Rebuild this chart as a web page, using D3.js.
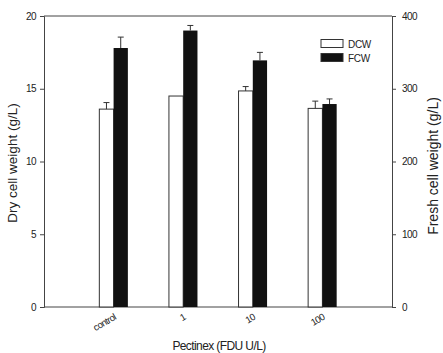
<!DOCTYPE html>
<html>
<head>
<meta charset="utf-8">
<script src="https://cdn.jsdelivr.net/npm/d3@7"></script>
<style>
  body { margin: 0; background: #fff; }
  svg text { font-family: "Liberation Sans", Arial, sans-serif; fill: #222; }
</style>
</head>
<body>
<div id="chart"></div>
<script>
// values
const categories = ["control", "1", "10", "100"];
const dcwValues = [13.6, 14.5, 14.85, 13.65];     // g/L, left axis
const dcwErrors = [0.45, 0, 0.3, 0.5];
const fcwValues = [356, 380, 339, 279];           // g/L, right axis
const fcwErrors = [15, 7, 11, 7];
const leftTicks = [0, 5, 10, 15, 20];
const rightTicks = [0, 100, 200, 300, 400];

const width = 443, height = 353;
const margin = {top: 16, right: 51, bottom: 46, left: 44};
const plotW = width - margin.left - margin.right;
const plotH = height - margin.top - margin.bottom;

const svg = d3.select("#chart").append("svg")
  .attr("width", width)
  .attr("height", height);

const g = svg.append("g")
  .attr("transform", "translate(" + margin.left + "," + margin.top + ")");

// groups sit at 1..4 on a 0..5 scale
const xScale = d3.scaleLinear().domain([0, 5]).range([0, plotW]);
const yLeft = d3.scaleLinear().domain([0, 20]).range([plotH, 0]);
const yRight = d3.scaleLinear().domain([0, 400]).range([plotH, 0]);
const barW = xScale(0.205) - xScale(0);

// frame
g.append("line").attr("x1", 0).attr("x2", plotW).attr("y1", 0).attr("y2", 0)
  .attr("stroke", "#444").attr("stroke-width", 1);
g.append("line").attr("x1", 0).attr("x2", plotW).attr("y1", plotH).attr("y2", plotH)
  .attr("stroke", "#444").attr("stroke-width", 1);

// bars
categories.forEach(function(c, i) {
  let cx = xScale(i + 1);
  // DCW (open bar + error)
  g.append("rect")
    .attr("x", cx - barW).attr("y", yLeft(dcwValues[i]))
    .attr("width", barW).attr("height", plotH - yLeft(dcwValues[i]))
    .attr("fill", "#fff").attr("stroke", "#333").attr("stroke-width", 1);
  if (dcwErrors[i] > 0) {
    let ex = cx - barW / 2;
    g.append("line").attr("x1", ex).attr("x2", ex)
      .attr("y1", yLeft(dcwValues[i])).attr("y2", yLeft(dcwValues[i] + dcwErrors[i]))
      .attr("stroke", "#333");
    g.append("line").attr("x1", ex - 3).attr("x2", ex + 3)
      .attr("y1", yLeft(dcwValues[i] + dcwErrors[i])).attr("y2", yLeft(dcwValues[i] + dcwErrors[i]))
      .attr("stroke", "#333");
  }
  // FCW (filled bar + error)
  g.append("rect")
    .attr("x", cx).attr("y", yRight(fcwValues[i]))
    .attr("width", barW).attr("height", plotH - yRight(fcwValues[i]))
    .attr("fill", "#111");
  let fx = cx + barW / 2;
  g.append("line").attr("x1", fx).attr("x2", fx)
    .attr("y1", yRight(fcwValues[i])).attr("y2", yRight(fcwValues[i] + fcwErrors[i]))
    .attr("stroke", "#333");
  g.append("line").attr("x1", fx - 3).attr("x2", fx + 3)
    .attr("y1", yRight(fcwValues[i] + fcwErrors[i])).attr("y2", yRight(fcwValues[i] + fcwErrors[i]))
    .attr("stroke", "#333");
});

// axes
let leftAxis = g.append("g")
  .call(d3.axisLeft(yLeft).tickValues(leftTicks).tickSize(4).tickPadding(4));
let rightAxis = g.append("g")
  .attr("transform", "translate(" + plotW + ",0)")
  .call(d3.axisRight(yRight).tickValues(rightTicks).tickSize(4).tickPadding(6));
[leftAxis, rightAxis].forEach(function(a) {
  a.select(".domain").attr("stroke", "#444");
  a.selectAll(".tick line").attr("stroke", "#444");
  a.selectAll("text").attr("font-size", 10).attr("letter-spacing", -0.6);
});

// x category labels, slanted
g.selectAll(".xlab")
  .data(categories)
  .enter()
  .append("text")
  .attr("class", "xlab")
  .attr("transform", function(d, i) { return "translate(" + (xScale(i + 1) + 3) + "," + (plotH + 12) + ") rotate(-30)"; })
  .attr("text-anchor", "end")
  .attr("font-size", 9.5)
  .attr("letter-spacing", -0.6)
  .text(function(d) { return d; });

// axis titles
svg.append("text")
  .attr("transform", "translate(17,163) rotate(-90)")
  .attr("text-anchor", "middle")
  .attr("font-size", 13.5)
  .text("Dry cell weight (g/L)");

svg.append("text")
  .attr("transform", "translate(438,166) rotate(-90)")
  .attr("text-anchor", "middle")
  .attr("font-size", 14)
  .text("Fresh cell weight (g/L)");

svg.append("text")
  .attr("x", 219).attr("y", 350)
  .attr("text-anchor", "middle")
  .attr("font-size", 12)
  .attr("letter-spacing", -0.6)
  .text("Pectinex (FDU U/L)");

// legend
const legendItems = [{name: "DCW", fill: "#fff"}, {name: "FCW", fill: "#111"}];
legendItems.forEach(function(item, i) {
  svg.append("rect")
    .attr("x", 321).attr("y", 39.5 + i * 14)
    .attr("width", 22).attr("height", 8)
    .attr("fill", item.fill).attr("stroke", "#333");
  svg.append("text")
    .attr("x", 348).attr("y", 47.5 + i * 14)
    .attr("font-size", 10)
    .attr("letter-spacing", -0.3)
    .text(item.name);
});
</script>
</body>
</html>
